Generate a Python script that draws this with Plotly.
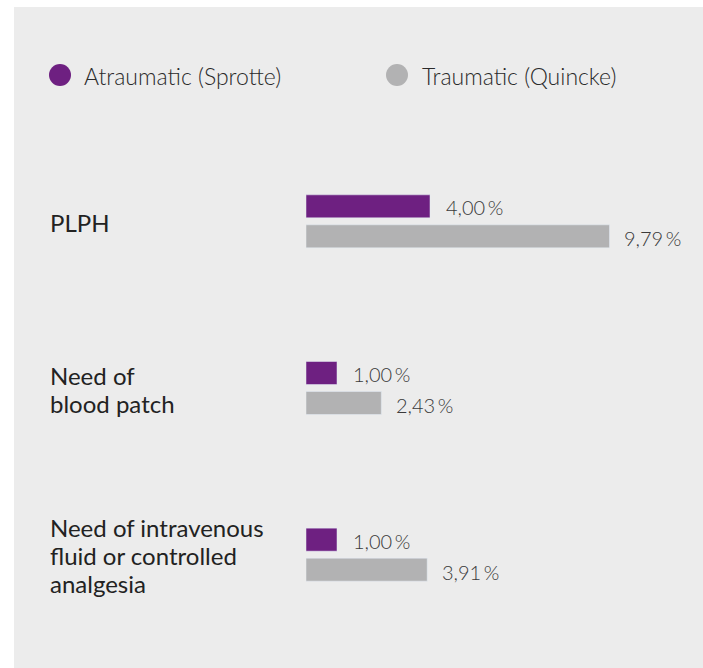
import plotly.graph_objects as go

categories = ["PLPH", "Need of<br>blood patch", "Need of intravenous<br>fluid or controlled<br>analgesia"]
series_names = ["Atraumatic (Sprotte)", "Traumatic (Quincke)"]
atraumatic = [4.00, 1.00, 1.00]
traumatic = [9.79, 2.43, 3.91]

PURPLE = "#6e2081"
GREY = "#b2b2b3"
BG = "#ececec"
FONT = "Lato"

OFF = 0  # page body margin removed by post_script
W, H = 703, 668
ML, MR, MT, MB = 306, 25, 138, 30
PW, PH = W - ML - MR, H - MT - MB


def px(x):
    # screen pixel -> paper fraction
    return (x - OFF - ML) / PW


def py(y):
    return (H - MB - (y - OFF)) / PH


def fmt(v):
    return f"{v:.2f}".replace(".", ",") + "\u2009%"


fig = go.Figure()
fig.add_trace(go.Bar(y=categories, x=atraumatic, orientation="h", marker_color=PURPLE,
                     name=series_names[0], showlegend=False, hoverinfo="skip"))
fig.add_trace(go.Bar(y=categories, x=traumatic, orientation="h", marker_color=GREY,
                     name=series_names[1], showlegend=False, hoverinfo="skip"))

annotations = []
LINE = 28
for cat, a, t in zip(categories, atraumatic, traumatic):
    annotations.append(dict(x=a, y=cat, xref="x", yref="y", text=fmt(a), showarrow=False,
                            xanchor="left", yanchor="middle", xshift=14, yshift=14,
                            font=dict(family=FONT, size=20, color="#3a3a3a", weight=300)))
    annotations.append(dict(x=t, y=cat, xref="x", yref="y", text=fmt(t), showarrow=False,
                            xanchor="left", yanchor="middle", xshift=13, yshift=-17,
                            font=dict(family=FONT, size=20, color="#3a3a3a", weight=300)))
    lines = cat.split("<br>")
    n = len(lines)
    for i, line in enumerate(lines):
        shift = ((n - 1) / 2 - i) * LINE - 1
        annotations.append(dict(x=px(48), y=cat, xref="paper", yref="y", text=line, showarrow=False,
                                xanchor="left", yanchor="middle", align="left", yshift=shift,
                                font=dict(family=FONT, size=24, color="#222222")))

shapes = [
    dict(type="rect", xref="paper", yref="paper", x0=px(-20), x1=px(14),
         y0=py(H + 20), y1=py(-20), fillcolor="white", line=dict(width=0), layer="below"),
    dict(type="rect", xref="paper", yref="paper", x0=px(-20), x1=px(W + 20),
         y0=py(7), y1=py(-20), fillcolor="white", line=dict(width=0), layer="below"),
]

legend_items = [(60, 82, series_names[0], PURPLE), (397, 420, series_names[1], GREY)]
for cx, tx, name, col in legend_items:
    r = 11
    shapes.append(dict(type="circle", xref="paper", yref="paper", x0=px(cx - r), x1=px(cx + r),
                       y0=py(75 + r), y1=py(75 - r), fillcolor=col, line=dict(width=0)))
    annotations.append(dict(x=px(tx), y=py(76), xref="paper", yref="paper", text=name,
                            showarrow=False, xanchor="left", yanchor="middle",
                            font=dict(family=FONT, size=23, color="#2a2a2a", weight=300)))

fig.update_layout(
    width=W, height=H,
    margin=dict(l=ML, r=MR, t=MT, b=MB, pad=0),
    paper_bgcolor=BG, plot_bgcolor="rgba(0,0,0,0)",
    barmode="group", bargap=0.64, bargroupgap=0.233,
    showlegend=False,
    xaxis=dict(range=[0, 12], visible=False, fixedrange=True),
    yaxis=dict(autorange="reversed", showticklabels=False, showgrid=False, zeroline=False,
               ticks="", fixedrange=True),
    shapes=shapes, annotations=annotations,
)

fig.write_html("out.html",
               config={"displayModeBar": False, "staticPlot": True},
               post_script="document.body.style.margin='0';"
                           "document.documentElement.style.overflow='hidden';"
                           "document.body.style.overflow='hidden';")
